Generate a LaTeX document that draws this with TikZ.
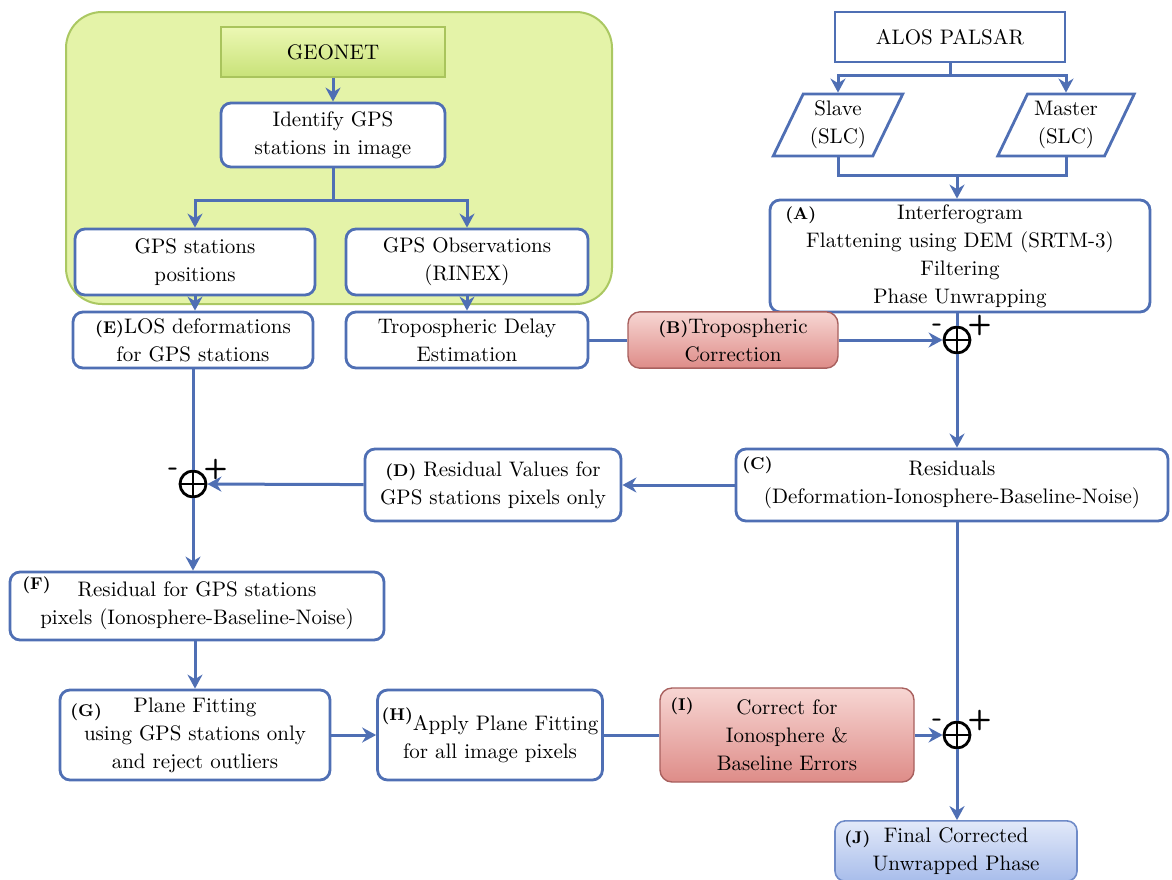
\documentclass[tikz,border=0pt]{standalone}
\usepackage{tikz}
\usetikzlibrary{arrows.meta,positioning,shapes.geometric,calc}

\definecolor{flowblue}{HTML}{4F6FB4}
\definecolor{geoback}{HTML}{E4F3A8}
\definecolor{geoedge}{HTML}{ABC862}
\newcommand{\stagetag}[1]{{\bfseries\fontsize{8.5}{10}\selectfont #1}}

\begin{document}
\begin{tikzpicture}[
    x=0.5pt, y=-0.5pt,
    >={Stealth[length=7pt,width=7.5pt]},
    every node/.style={font=\rmfamily\fontsize{10.5}{14}\selectfont},
    box/.style={rounded corners=5pt, draw=flowblue, line width=1.4pt, fill=white, align=center, inner sep=2pt},
    plain/.style={draw=flowblue, line width=1.4pt, fill=white, align=center, inner sep=2pt},
    slc/.style={trapezium, trapezium left angle=64, trapezium right angle=116, trapezium stretches body,
        draw=flowblue, line width=1.4pt, fill=white, align=center, minimum width=60pt, minimum height=31pt},
    corr/.style={rounded corners=6pt, draw={rgb,255:red,168;green,96;blue,94}, line width=0.7pt,
        top color={rgb,255:red,247;green,214;blue,211}, bottom color={rgb,255:red,222;green,140;blue,136}, align=center},
    final/.style={rounded corners=5pt, draw={rgb,255:red,111;green,139;blue,200}, line width=0.8pt,
        top color={rgb,255:red,226;green,233;blue,249}, bottom color={rgb,255:red,168;green,189;blue,235}, align=center},
    tag/.style={font=\rmfamily\bfseries\fontsize{8.5}{10}\selectfont, inner sep=0pt},
    sum/.style={circle, draw=black, line width=1.4pt, fill=white, minimum size=13pt, inner sep=0pt,
        path picture={\draw[black, line width=1.2pt] (path picture bounding box.north) -- (path picture bounding box.south)
            (path picture bounding box.west) -- (path picture bounding box.east);}},
    sign/.style={font=\sffamily\bfseries\fontsize{14}{14}\selectfont, inner sep=0pt},
    flow/.style={draw=flowblue, line width=1.5pt}
]
\useasboundingbox (0,0) rectangle (1172,879);

% GEONET group
\node[rounded corners=18pt, draw=geoedge, line width=1pt, fill=geoback, minimum width=273pt, minimum height=146pt] (geogroup) at (339,158) {};
\node[draw={rgb,255:red,169;green,196;blue,92}, line width=0.7pt, top color={rgb,255:red,236;green,248;blue,180},
    bottom color={rgb,255:red,200;green,226;blue,120}, minimum width=112pt, minimum height=25pt] (geonet) at (333,52) {GEONET};
\node[box, minimum width=112pt, minimum height=32pt] (ident) at (333,135) {Identify GPS\\stations in image};
\node[box, minimum width=120pt, minimum height=33pt] (pos) at (195,262) {GPS stations\\positions};
\node[box, minimum width=121pt, minimum height=33pt] (obs) at (467,262) {GPS Observations\\(RINEX)};
\coordinate (split) at (333,200);

% InSAR branch
\node[plain, minimum width=115pt, minimum height=25pt] (alos) at (950,37) {ALOS PALSAR};
\node[slc] (slave) at (838,125) {Slave\\(SLC)};
\node[slc] (master) at (1066,125) {Master\\(SLC)};
\coordinate (fork) at (950,75);
\coordinate (merge) at (957,175);
\node[box, minimum width=190pt, minimum height=56pt] (ifg) at (960,256) {Interferogram\\Flattening using DEM (SRTM-3)\\Filtering\\Phase Unwrapping};
\node[tag, anchor=north west] (ifgtag) at (785,206) {(A)};

% row of corrections
\node[box, minimum width=120pt, minimum height=28pt] (los) at (193,340) {\stagetag{(E)}LOS deformations\\for GPS stations};
\node[box, minimum width=121pt, minimum height=28pt] (trop) at (467,340) {Tropospheric Delay\\Estimation};
\node[corr, minimum width=105pt, minimum height=23pt] (tropcorr) at (733,340) {\stagetag{(B)}Tropospheric\\Correction};
\node[sum] (sumtrop) at (957,340) {};
\node[sign, anchor=south east] (sumtropm) at ([xshift=-2pt,yshift=-1pt]sumtrop.north west) {-};
\node[sign, anchor=south west] (sumtropp) at ([xshift=0pt,yshift=-3pt]sumtrop.north east) {+};

\node[box, minimum width=216pt, minimum height=36pt] (resid) at (952,485) {Residuals\\(Deformation-Ionosphere-Baseline-Noise)};
\node[tag, anchor=north west] (residtag) at (742,456) {(C)};
\node[box, minimum width=128pt, minimum height=36pt] (gpsres) at (493,485) {\stagetag{(D)} Residual Values for\\GPS stations pixels only};
\node[sum] (sumgps) at (193,484) {};
\node[sign, anchor=south east] (sumgpsm) at ([xshift=-2pt,yshift=-1pt]sumgps.north west) {-};
\node[sign, anchor=south west] (sumgpsp) at ([xshift=0pt,yshift=-3pt]sumgps.north east) {+};

% plane fitting
\node[box, minimum width=187pt, minimum height=34pt] (ionores) at (197,606) {Residual for GPS stations\\pixels (Ionosphere-Baseline-Noise)};
\node[tag, anchor=north west] (ionorestag) at (22,576) {(F)};
\node[box, minimum width=135pt, minimum height=45pt] (plane) at (195,735) {Plane Fitting\\using GPS stations only\\and reject outliers};
\node[tag, anchor=north west] (planetag) at (70,703) {(G)};
\node[box, minimum width=111pt, minimum height=45pt] (apply) at (490,735) {\raisebox{5pt}{\stagetag{(H)}}Apply Plane Fitting\\for all image pixels};
\node[corr, minimum width=127pt, minimum height=47pt] (ionocorr) at (787,735) {Correct for\\Ionosphere \&\\Baseline Errors};
\node[tag, anchor=north west] (ionocorrtag) at (670,697) {(I)};
\node[sum] (sumfin) at (957,735) {};
\node[sign, anchor=south east] (sumfinm) at ([xshift=-2pt,yshift=-1pt]sumfin.north west) {-};
\node[sign, anchor=south west] (sumfinp) at ([xshift=0pt,yshift=-3pt]sumfin.north east) {+};
\node[final, minimum width=121pt, minimum height=26pt] (phase) at (956,851) {Final Corrected\\Unwrapped Phase};
\node[tag, anchor=north west] (phasetag) at (844,830) {(J)};

% connectors
\draw[flow, ->] (geonet) -- (ident);
\draw[flow] (ident) -- (split);
\draw[flow, ->] (split) -| (pos.north);
\draw[flow, ->] (split) -| (obs.north);
\draw[flow, ->] (pos) -- (pos |- los.north);
\draw[flow, ->] (obs) -- (trop);
\draw[flow] (alos) -- (fork);
\draw[flow, ->] (fork) -| (slave.north);
\draw[flow, ->] (fork) -| (master.north);
\draw[flow] (slave.south) |- (merge);
\draw[flow] (master.south) |- (merge);
\draw[flow, ->] (merge) -- (merge |- ifg.north);
\draw[flow] (ifg.south -| sumtrop) -- (sumtrop);
\draw[flow] (trop) -- (tropcorr);
\draw[flow, ->] (tropcorr) -- (sumtrop);
\draw[flow, ->] (sumtrop) -- (sumtrop |- resid.north);
\draw[flow, ->] (resid) -- (gpsres);
\draw[flow, ->] (gpsres) -- (sumgps);
\draw[flow] (los) -- (sumgps);
\draw[flow, ->] (sumgps) -- (sumgps |- ionores.north);
\draw[flow, ->] (ionores.south -| plane) -- (plane);
\draw[flow, ->] (plane) -- (apply);
\draw[flow] (apply) -- (ionocorr);
\draw[flow, ->] (ionocorr) -- (sumfin);
\draw[flow] (resid.south -| sumfin) -- (sumfin);
\draw[flow, ->] (sumfin) -- (sumfin |- phase.north);

\end{tikzpicture}
\end{document}
